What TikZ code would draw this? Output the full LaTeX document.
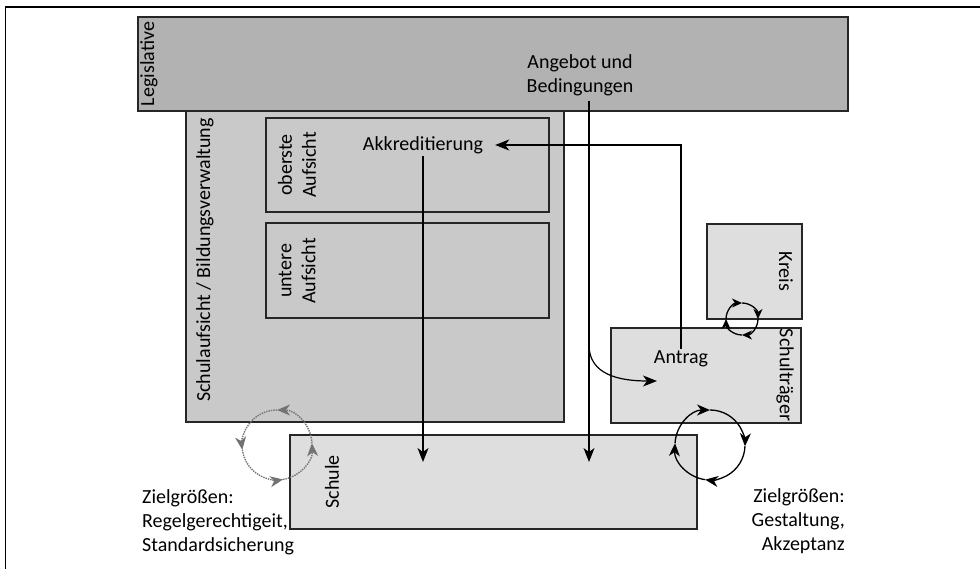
\documentclass[tikz,border=0pt]{standalone}
\usepackage{fontspec}
\setmainfont{Carlito}
\usetikzlibrary{arrows.meta}

\tikzset{
  box/.style={draw=black!85, line width=1.4pt},
  arr/.style={-{Stealth[length=14pt,width=11pt,inset=4pt]}, line width=1.2pt},
  cyc/.style={-{Stealth[length=13pt,width=11pt,inset=4pt]}, line width=1.3pt},
  dotcyc/.style={-{Stealth[length=13pt,width=11pt,inset=4pt]}, line width=1.4pt, densely dotted, draw=black!55},
  every node/.style={inner sep=2pt}
}

\begin{document}
\begin{tikzpicture}[x=1pt, y=-1pt, font=\fontsize{20}{24}\selectfont]
\useasboundingbox (0,0) rectangle (980,569);
% Frame
\draw[line width=1.3pt] (5.5,569) -- (5.5,7) -- (980,7);

% Legislative
\draw[box, fill=black!30] (138,17) rectangle (848,111);
\node[rotate=90] (legis) at (149,64) {Legislative};
\node[align=center] (angebot) at (580,75) {Angebot und\\Bedingungen};

% Schulaufsicht / Bildungsverwaltung
\draw[box, fill=black!21] (186,111) rectangle (564,422);
\node[rotate=90] (aufsicht) at (205,260) {Schulaufsicht / Bildungsverwaltung};
\draw[box, fill=black!21] (266,118) rectangle (549,212);
\node[rotate=90, align=center] (oberste) at (297,165) {oberste\\Aufsicht};
\draw[box, fill=black!21] (266,223) rectangle (549,318);
\node[rotate=90, align=center] (untere) at (297,271) {untere\\Aufsicht};
\node (akk) at (423,145) {Akkreditierung};

% Kreis and Schultraeger
\draw[box, fill=black!13] (707,224) rectangle (802,319);
\node[rotate=-90] (kreis) at (786,271.5) {Kreis};
\draw[box, fill=black!13] (611,328) rectangle (801,423);
\node[rotate=-90] (traeger) at (785,375) {Schulträger};
\node (antrag) at (681,359) {Antrag};

% Schule
\draw[box, fill=black!13] (290,435) rectangle (697,529);
\node[rotate=90] (schule) at (332,482) {Schule};

% Zielgroessen
\node[align=left, anchor=west] (zielL) at (140,522) {Zielgrößen:\\Regelgerechtigeit,\\Standardsicherung};
\node[align=right, anchor=east] (zielR) at (847,521) {Zielgrößen:\\Gestaltung,\\Akzeptanz};

% Connectors
\coordinate (hitA) at (423,462);
\coordinate (hitB) at (589,462);
\coordinate (angebotFoot) at (589,101);
\coordinate (bend) at (589,345);
\coordinate (antragIn) at (657,381);
\draw[arr] (akk.south) -- (hitA);
\draw[arr] (angebotFoot) -- (hitB);
\draw[arr] (bend) .. controls (589,375) and (620,381) .. (antragIn);
\draw[arr] (antrag.north) |- ([xshift=10pt]akk.east);

% Cycles
\coordinate (kc) at (742,319);
\coordinate (sc) at (710,445);
\coordinate (dc) at (277,445);
\foreach \a/\b in {180/270, 270/360, 0/90, 90/180}
  \draw[cyc, -{Stealth[length=10pt,width=9pt,inset=3pt]}] (kc) ++(\a:16) arc (\a:\b:16);
\foreach \a/\b in {183/270, 270/362, 2/98, 98/183}
  \draw[cyc] (sc) ++(\a:35) arc (\a:\b:35);
\foreach \a/\b in {357/270, 270/172, 172/80, 80/-3}
  \draw[dotcyc] (dc) ++(\a:35) arc (\a:\b:35);
\end{tikzpicture}
\end{document}
